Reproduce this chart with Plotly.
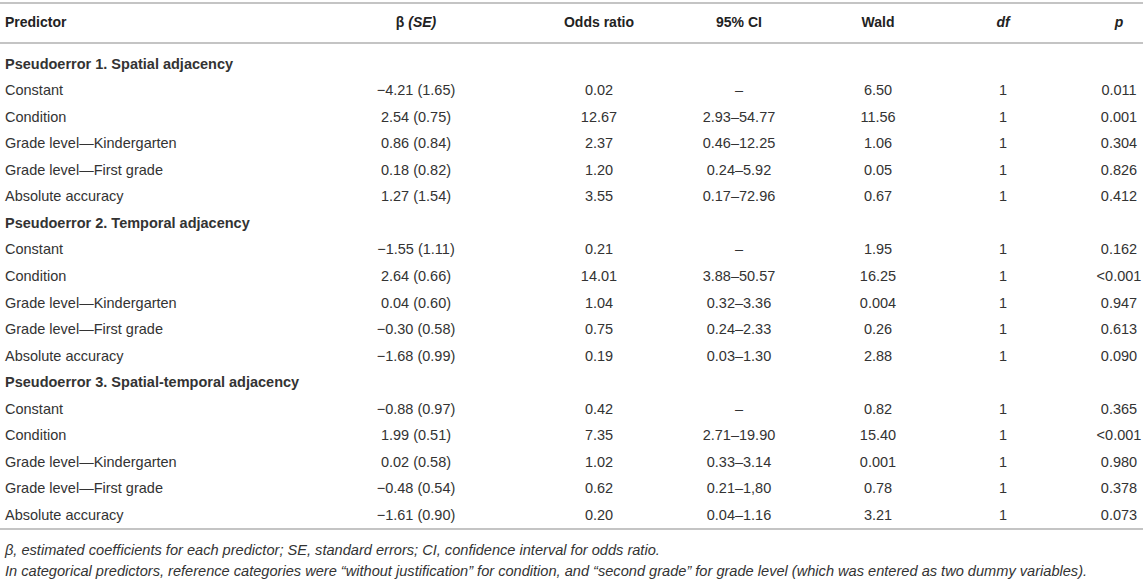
import plotly.graph_objects as go

# column headers (β and p columns carry italic parts)
headers = ["Predictor", "β <i>(SE)</i>", "Odds ratio", "95% CI", "Wald", "<i>df</i>", "<i>p</i>"]

sections = [
    "Pseudoerror 1. Spatial adjacency",
    "Pseudoerror 2. Temporal adjacency",
    "Pseudoerror 3. Spatial-temporal adjacency",
]

predictors = ["Constant", "Condition", "Grade level\u2014Kindergarten",
              "Grade level\u2014First grade", "Absolute accuracy"]

# one list per section, rows follow the predictors order
beta_se = [
    ["\u22124.21 (1.65)", "2.54 (0.75)", "0.86 (0.84)", "0.18 (0.82)", "1.27 (1.54)"],
    ["\u22121.55 (1.11)", "2.64 (0.66)", "0.04 (0.60)", "\u22120.30 (0.58)", "\u22121.68 (0.99)"],
    ["\u22120.88 (0.97)", "1.99 (0.51)", "0.02 (0.58)", "\u22120.48 (0.54)", "\u22121.61 (0.90)"],
]
odds_ratio = [
    ["0.02", "12.67", "2.37", "1.20", "3.55"],
    ["0.21", "14.01", "1.04", "0.75", "0.19"],
    ["0.42", "7.35", "1.02", "0.62", "0.20"],
]
ci95 = [
    ["\u2013", "2.93\u201354.77", "0.46\u201312.25", "0.24\u20135.92", "0.17\u201372.96"],
    ["\u2013", "3.88\u201350.57", "0.32\u20133.36", "0.24\u20132.33", "0.03\u20131.30"],
    ["\u2013", "2.71\u201319.90", "0.33\u20133.14", "0.21\u20131,80", "0.04\u20131.16"],
]
wald = [
    ["6.50", "11.56", "1.06", "0.05", "0.67"],
    ["1.95", "16.25", "0.004", "0.26", "2.88"],
    ["0.82", "15.40", "0.001", "0.78", "3.21"],
]
dof = [
    ["1", "1", "1", "1", "1"],
    ["1", "1", "1", "1", "1"],
    ["1", "1", "1", "1", "1"],
]
p_values = [
    ["0.011", "0.001", "0.304", "0.826", "0.412"],
    ["0.162", "<0.001", "0.947", "0.613", "0.090"],
    ["0.365", "<0.001", "0.980", "0.378", "0.073"],
]

footnotes = [
    "<i>\u03b2, estimated coefficients for each predictor; SE, standard errors; CI, confidence interval for odds ratio.</i>",
    "<i>In categorical predictors, reference categories were \u201cwithout justification\u201d for condition, "
    "and \u201csecond grade\u201d for grade level (which was entered as two dummy variables).</i>",
]

# layout (pixel units on the hidden axes)
W, H = 1143, 584
FONT = "Liberation Sans, Arial, sans-serif"
TXT = "#333333"
LINE = "#c4c4c4"
col_x = [5, 416, 599, 739, 878, 1003, 1119]
header_y = 23
first_row_y = 65
row_h = 26.55

# flatten table into rows
row_kind, row_cells = [], []
for s, name in enumerate(sections):
    row_kind.append("section")
    row_cells.append([name] + [""] * 6)
    for r, pred in enumerate(predictors):
        row_kind.append("data")
        row_cells.append([pred, beta_se[s][r], odds_ratio[s][r], ci95[s][r],
                          wald[s][r], dof[s][r], p_values[s][r]])

row_y = [first_row_y + i * row_h for i in range(len(row_cells))]

fig = go.Figure()

# predictor column: section titles bold, predictors regular
fig.add_trace(go.Scatter(
    x=[col_x[0]] * len(row_cells),
    y=row_y,
    text=[("<b>%s</b>" % c[0]) if k == "section" else c[0] for c, k in zip(row_cells, row_kind)],
    mode="text", textposition="middle right",
    textfont=dict(family=FONT, size=14.5, color=TXT),
    hoverinfo="skip", showlegend=False,
))

# numeric columns
for j in range(1, 7):
    fig.add_trace(go.Scatter(
        x=[col_x[j]] * len(row_cells),
        y=row_y,
        text=[c[j] for c in row_cells],
        mode="text", textposition="middle center",
        textfont=dict(family=FONT, size=14.5, color=TXT),
        hoverinfo="skip", showlegend=False,
    ))

# header row
fig.add_trace(go.Scatter(
    x=col_x,
    y=[header_y] * len(headers),
    text=["<b>%s</b>" % h for h in headers],
    mode="text",
    textposition=["middle right"] + ["middle center"] * 6,
    textfont=dict(family=FONT, size=14, color="#222222"),
    hoverinfo="skip", showlegend=False,
))

# footnotes
fig.add_trace(go.Scatter(
    x=[5, 5],
    y=[551, 572],
    text=footnotes,
    mode="text", textposition="middle right",
    textfont=dict(family=FONT, size=14.6, color=TXT),
    hoverinfo="skip", showlegend=False,
))

# horizontal rules
for y in [3, 43, 529]:
    fig.add_shape(type="line", x0=0, x1=W, y0=y, y1=y,
                  line=dict(color=LINE, width=2), layer="below")

fig.update_layout(
    width=W, height=H,
    margin=dict(l=0, r=0, t=0, b=0),
    paper_bgcolor="white", plot_bgcolor="white",
    xaxis=dict(range=[0, W], visible=False, fixedrange=True),
    yaxis=dict(range=[H, 0], visible=False, fixedrange=True),
)

# drop the page's default body margin so the figure sits at the window corner
fig.write_html("out.html", config={"displayModeBar": False},
               post_script="document.body.style.margin='0px';")
